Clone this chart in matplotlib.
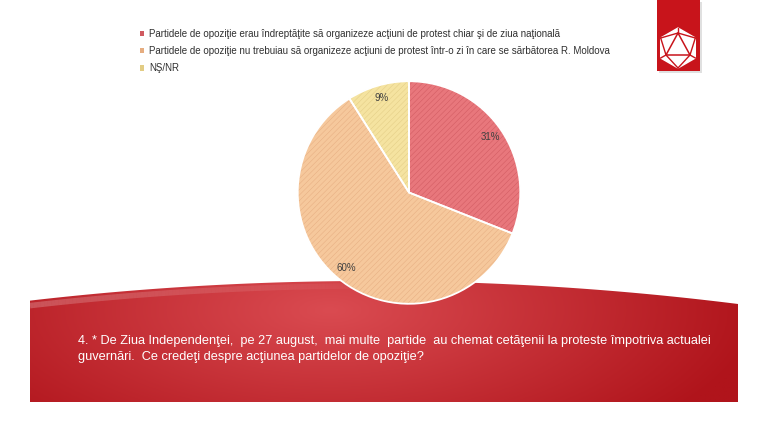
import numpy as np
import matplotlib
matplotlib.use("Agg")
import matplotlib.pyplot as plt
from matplotlib.patches import Rectangle, Polygon
from matplotlib.collections import LineCollection

plt.rcParams['font.family'] = ['Liberation Sans', 'DejaVu Sans']
plt.rcParams['hatch.linewidth'] = 0.35

# data
labels = [
    "Partidele de opoziţie erau îndreptăţite să organizeze acţiuni de protest chiar şi de ziua naţională",
    "Partidele de opoziţie nu trebuiau să organizeze acţiuni de protest într-o zi în care se sărbătorea R. Moldova",
    "NŞ/NR",
]
values = [31, 60, 9]
colors = ['#e8777c', '#f6c89c', '#f5e3a0']
hatch_colors = ['#d05a60', '#e6ad80', '#e2cc84']
question = ("4. * De Ziua Independenţei,  pe 27 august,  mai multe  partide  au chemat cetăţenii la proteste împotriva actualei\n"
            "guvernări.  Ce credeţi despre acţiunea partidelor de opoziţie?")

W, H = 768, 432
fig = plt.figure(figsize=(W / 100, H / 100), dpi=100)
fig.patch.set_facecolor('white')

# background axes in pixel coords
bg = fig.add_axes([0, 0, 1, 1])
bg.set_xlim(0, W)
bg.set_ylim(H, 0)
bg.axis('off')

# red band with curved top
x = np.linspace(30, 738, 200)
ytop = 281 + 22 * ((x - 370) / 360) ** 2
verts = list(zip(x, ytop)) + [(738, 402), (30, 402)]
band = Polygon(verts, closed=True, facecolor='none', edgecolor='none')
bg.add_patch(band)
gx, gy = np.meshgrid(np.linspace(0, W, 300), np.linspace(275, 405, 100))
d = np.sqrt(((gx - 330) / 430) ** 2 + ((gy - 310) / 170) ** 2)
d = np.clip(d, 0, 1)
c0 = np.array([0xda, 0x4b, 0x51]) / 255
c1 = np.array([0xb0, 0x14, 0x1b]) / 255
img = c0[None, None, :] * (1 - d[..., None]) + c1[None, None, :] * d[..., None]
im = bg.imshow(img, extent=(0, W, 405, 275), aspect='auto', zorder=1)
im.set_clip_path(band)
# subtle highlight along the top edge on the left
n = 110
pts = np.column_stack([x[:n], ytop[:n] + 5])
segs = np.stack([pts[:-1], pts[1:]], axis=1)
alphas = np.linspace(0.22, 0.0, n - 1)
hl = LineCollection(segs, colors=[(1, 1, 1, a) for a in alphas], linewidths=4, zorder=2)
bg.add_collection(hl)

bg.text(78, 349, question, color='white', fontsize=9.2, va='center', ha='left',
        linespacing=1.5, zorder=3)

# logo
bg.add_patch(Rectangle((659, 2), 43, 71, facecolor='#9a9a9a', alpha=0.3, zorder=2))
bg.add_patch(Rectangle((657, 0), 43, 71, facecolor='#c8141b', zorder=3))
cx, cy, r = 678, 48, 20
ang = np.deg2rad([90, 30, -30, -90, -150, 150])
hx = cx + r * np.cos(ang)
hy = cy - r * np.sin(ang)
bg.add_patch(Polygon(list(zip(hx, hy)), closed=True, facecolor='white', edgecolor='white', lw=1, zorder=4))
tri = [(cx, cy - 15), (cx - 12, cy + 7), (cx + 12, cy + 7)]
bg.add_patch(Polygon(tri, closed=True, facecolor='none', edgecolor='#c8141b', lw=1.1, zorder=5))
for ti, hi in [(0, 0), (0, 1), (0, 5), (2, 1), (2, 2), (2, 3), (1, 5), (1, 4), (1, 3)]:
    bg.plot([tri[ti][0], hx[hi]], [tri[ti][1], hy[hi]], color='#c8141b', lw=1.0, zorder=5)

# pie
pcx, pcy, pr = 409, 192.5, 113.5
ax = fig.add_axes([(pcx - pr) / W, 1 - (pcy + pr) / H, 2 * pr / W, 2 * pr / H])
wedges, texts, autotexts = ax.pie(values, colors=colors, startangle=90, counterclock=False,
                                  autopct=lambda p: f'{p:.0f}%', pctdistance=0.88,
                                  wedgeprops=dict(linewidth=0),
                                  textprops=dict(fontsize=7, color='#404040'))
for w, hc in zip(wedges, hatch_colors):
    w.set_hatch('//////')
    w.set_edgecolor(hc)
ax.pie(values, colors=['none'] * 3, startangle=90, counterclock=False,
       wedgeprops=dict(linewidth=1.3, edgecolor='white', fill=False))
ax.set_xlim(-1.02, 1.02)
ax.set_ylim(-1.02, 1.02)
ax.set_aspect('equal')

handles = [Rectangle((0, 0), 1, 1, facecolor=c, edgecolor='none') for c in hatch_colors]
fig.legend(handles, labels, loc='upper left', bbox_to_anchor=(140 / W, 1 - 29 / H),
           frameon=False, fontsize=7, handlelength=0.45, handleheight=0.45,
           handletextpad=0.45, labelspacing=0.74, borderaxespad=0, borderpad=0,
           labelcolor='#303030')

fig.savefig('out.png', dpi=100)
